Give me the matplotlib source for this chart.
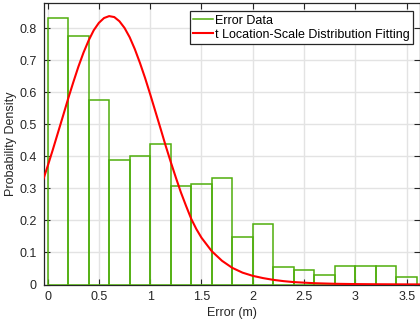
import matplotlib
matplotlib.use("Agg")
import matplotlib.pyplot as plt
from matplotlib.lines import Line2D

# ---- data ----
bin_edges = [0.0, 0.2, 0.4, 0.6, 0.8, 1.0, 1.2, 1.4, 1.6, 1.8, 2.0, 2.2, 2.4,
             2.6, 2.8, 3.0, 3.2, 3.4, 3.6]
density = [0.831, 0.775, 0.576, 0.389, 0.402, 0.440, 0.306, 0.315, 0.332,
           0.149, 0.189, 0.055, 0.045, 0.029, 0.059, 0.059, 0.059, 0.024]

fit_x = [-0.04, 0.0, 0.05, 0.10, 0.15, 0.20, 0.25, 0.30, 0.35, 0.40, 0.45,
         0.50, 0.55, 0.60, 0.65, 0.70, 0.75, 0.80, 0.85, 0.90, 0.95, 1.00,
         1.05, 1.10, 1.15, 1.20, 1.25, 1.30, 1.35, 1.40, 1.45, 1.50, 1.60,
         1.70, 1.80, 1.90, 2.00, 2.10, 2.20, 2.30, 2.40, 2.60, 2.80, 3.00,
         3.20, 3.40, 3.63]
fit_y = [0.330, 0.369, 0.420, 0.473, 0.526, 0.580, 0.631, 0.680, 0.724,
         0.762, 0.794, 0.817, 0.832, 0.838, 0.835, 0.822, 0.801, 0.772,
         0.735, 0.692, 0.645, 0.594, 0.541, 0.488, 0.434, 0.383, 0.334,
         0.287, 0.245, 0.205, 0.173, 0.146, 0.104, 0.074, 0.052, 0.037,
         0.027, 0.020, 0.0145, 0.0105, 0.0075, 0.0040, 0.0022, 0.0013,
         0.0008, 0.0005, 0.0003]

x_ticks = [0, 0.5, 1, 1.5, 2, 2.5, 3, 3.5]
x_tick_labels = ["0", "0.5", "1", "1.5", "2", "2.5", "3", "3.5"]
y_ticks = [0, 0.1, 0.2, 0.3, 0.4, 0.5, 0.6, 0.7, 0.8]
y_tick_labels = ["0", "0.1", "0.2", "0.3", "0.4", "0.5", "0.6", "0.7", "0.8"]

series_names = ["Error Data", "t Location-Scale Distribution Fitting"]
x_label = "Error (m)"
y_label = "Probability Density"

# ---- styling ----
plt.rcParams['font.family'] = ['Liberation Sans', 'DejaVu Sans']
GREEN = '#4fae0c'
RED = '#ff0000'
DARK = '#262626'

W, H = 420, 329
fig = plt.figure(figsize=(W / 100, H / 100), dpi=100)
left, right, bottom, top = 43.7, 419.5, 284.5, 3.3
ax = fig.add_axes([left / W, (H - bottom) / H, (right - left) / W, (bottom - top) / H])

lefts = bin_edges[:-1]
widths = [b - a for a, b in zip(bin_edges[:-1], bin_edges[1:])]
ax.bar(lefts, density, width=widths, align='edge', facecolor='none',
       edgecolor=GREEN, linewidth=1.1, zorder=3)
ax.plot(fit_x, fit_y, color=RED, linewidth=1.5, zorder=4)

ax.set_xlim(-0.038, 3.625)
ax.set_ylim(0, 0.878)
ax.set_xticks(x_ticks)
ax.set_xticklabels(x_tick_labels)
ax.set_yticks(y_ticks)
ax.set_yticklabels(y_tick_labels)

ax.grid(True, color='#e3e3e3', linewidth=1.0, zorder=0)
ax.set_axisbelow(True)
ax.tick_params(direction='in', length=4, width=0.8, colors=DARK,
               labelsize=9, top=True, right=True, pad=5)
for s in ax.spines.values():
    s.set_color(DARK)
    s.set_linewidth(0.9)

ax.set_xlabel(x_label, fontsize=9, color=DARK)
ax.set_ylabel(y_label, fontsize=9, color=DARK)
ax.xaxis.set_label_coords(0.5, -(313 - bottom) / (bottom - top))
ax.xaxis.label.set_va('center')
ax.yaxis.set_label_coords((17.5 - left) / (right - left), 0.5)

handles = [Line2D([], [], color=GREEN, linewidth=1.1),
           Line2D([], [], color=RED, linewidth=1.5)]
leg = ax.legend(handles, series_names, loc='upper right',
                bbox_to_anchor=((413.3 - left) / (right - left), (bottom - 11) / (bottom - top)),
                borderaxespad=0, fontsize=9, frameon=True, fancybox=False,
                handlelength=1.6, handletextpad=0.12, borderpad=0.3,
                labelspacing=0.15)
leg.get_frame().set_edgecolor(DARK)
leg.get_frame().set_linewidth(0.9)
leg.get_frame().set_alpha(1)

fig.savefig("out.png", dpi=100)
